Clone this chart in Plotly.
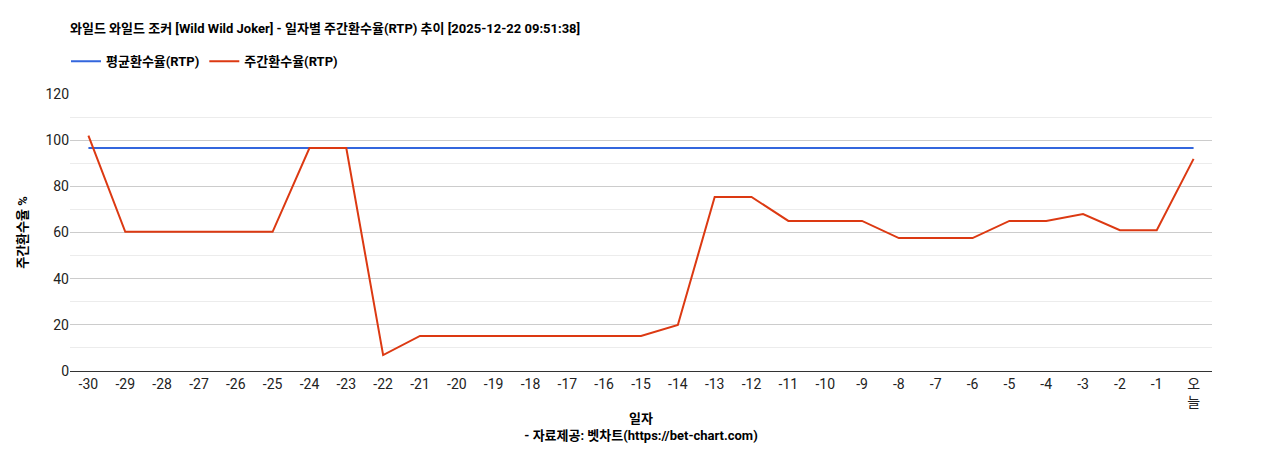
import plotly.graph_objects as go

# ---- data ----
days = [str(d) for d in range(-30, 0)] + ["오<br>늘"]
weekly_rtp = [102, 60.3, 60.3, 60.3, 60.3, 60.3, 96.6, 96.6, 6.9, 15.2,
              15.2, 15.2, 15.2, 15.2, 15.2, 15.2, 19.9, 75.4, 75.4, 65,
              65, 65, 57.6, 57.6, 57.6, 65, 65, 68, 61, 61, 91.9]
avg_rtp = [96.6] * len(days)

title = "와일드 와일드 조커 [Wild Wild Joker] - 일자별 주간환수율(RTP) 추이 [2025-12-22 09:51:38]"
font = "Roboto, Noto Sans CJK KR, Arial"

fig = go.Figure()
fig.add_trace(go.Scatter(x=days, y=avg_rtp, name="<b>평균환수율(RTP)</b>", mode="lines",
                         line=dict(color="#3366dd", width=2)))
fig.add_trace(go.Scatter(x=days, y=weekly_rtp, name="<b>주간환수율(RTP)</b>", mode="lines",
                         line=dict(color="#dc3912", width=2)))

fig.update_layout(
    width=1268, height=450,
    margin=dict(l=62, r=64, t=86, b=87),
    paper_bgcolor="white", plot_bgcolor="white",
    font=dict(family=font, size=14, color="#222"),
    title=dict(text="<b>" + title + "</b>", x=62 / 1268, xref="container", xanchor="left",
               y=0.965, yanchor="top", font=dict(size=13, color="#000")),
    legend=dict(orientation="h", x=58 / 1268, xref="container", xanchor="left",
                y=0.915, yref="container", yanchor="top",
                font=dict(size=13, color="#000")),
    showlegend=True,
)
fig.update_xaxes(
    type="category", range=[-0.5, 30.5], showgrid=False, showline=True, linecolor="#333",
    ticks="", tickangle=0, automargin=False,
    tickfont=dict(size=14, color="#222"),
    title=dict(text="<b>일자</b><br><b>- 자료제공: 벳차트(https://bet-chart.com)</b>",
               font=dict(size=13, color="#000"), standoff=4),
)
fig.update_yaxes(
    range=[0, 120], dtick=20, showgrid=True, gridcolor="#cccccc",
    minor=dict(dtick=10, showgrid=True, gridcolor="#ececec"),
    zeroline=False, tickfont=dict(size=14, color="#222"), automargin=False,
    title=dict(text="<b>주간환수율 %</b>", font=dict(size=13, color="#000"), standoff=14),
)

fig.write_html("out.html")
